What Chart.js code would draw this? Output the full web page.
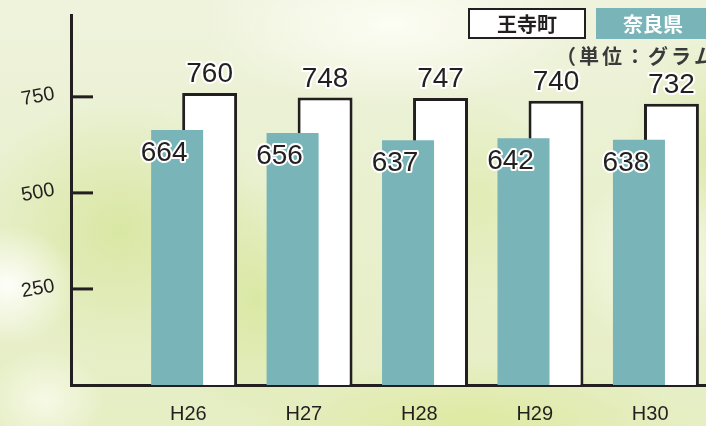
<!DOCTYPE html>
<html lang="ja">
<head>
<meta charset="UTF-8">
<title>王寺町と奈良県</title>
<script src="https://cdn.jsdelivr.net/npm/chart.js"></script>
<style>
  html, body { margin: 0; padding: 0; }
  body {
    width: 706px; height: 426px; overflow: hidden;
    background:
      radial-gradient(ellipse 70px 60px at 8px 285px, rgba(255,255,252,0.95), rgba(255,255,252,0)),
      radial-gradient(ellipse 190px 80px at 390px 25px, rgba(255,255,248,0.85), rgba(255,255,248,0)),
      radial-gradient(ellipse 60px 50px at 45px 400px, rgba(250,252,238,0.8), rgba(250,252,238,0)),
      radial-gradient(ellipse 150px 130px at 120px 230px, rgba(212,228,150,0.75), rgba(212,228,150,0)),
      radial-gradient(ellipse 90px 120px at 255px 300px, rgba(212,229,148,0.7), rgba(212,229,148,0)),
      radial-gradient(ellipse 80px 110px at 480px 200px, rgba(220,233,165,0.6), rgba(220,233,165,0)),
      radial-gradient(ellipse 220px 60px at 470px 420px, rgba(220,232,150,0.75), rgba(220,232,150,0)),
      radial-gradient(ellipse 90px 90px at 660px 260px, rgba(250,252,238,0.85), rgba(250,252,238,0)),
      radial-gradient(ellipse 80px 120px at 706px 150px, rgba(218,232,165,0.75), rgba(218,232,165,0)),
      linear-gradient(180deg, #eff3dd 0%, #e9f0cf 45%, #e6eec4 100%);
  }
  #wrap { position: relative; width: 706px; height: 426px; }
</style>
</head>
<body>
<div id="wrap"><canvas id="myChart"></canvas></div>
<script>
const categories = ['H26', 'H27', 'H28', 'H29', 'H30'];
const ojiValues = [760, 748, 747, 740, 732];   // 王寺町
const naraValues = [664, 656, 637, 642, 638];  // 奈良県
const yTickValues = [250, 500, 750];
const unitText = '（単位：グラム）';

const TEAL = '#79b5b8';
const INK = '#231f20';
const NUM_FONT = '"Liberation Sans", Arial, sans-serif';
const JP_FONT = '"Noto Sans CJK JP", sans-serif';

function toPoints(values) {
    return values.map((v, i) => ({ x: i + 1, y: v }));
}

// y軸の内向き目盛りと傾いたラベル
const yTickPlugin = {
    id: 'yTickPlugin',
    afterDraw(chart) {
        const ctx = chart.ctx;
        const scale = chart.scales.y;
        const left = chart.chartArea.left;
        ctx.save();
        ctx.strokeStyle = INK;
        ctx.fillStyle = INK;
        ctx.lineWidth = 3;
        ctx.font = '20px ' + NUM_FONT;
        ctx.textAlign = 'center';
        ctx.textBaseline = 'middle';
        yTickValues.forEach(v => {
            const py = scale.getPixelForValue(v);
            ctx.beginPath();
            ctx.moveTo(left, py);
            ctx.lineTo(left + 22, py);
            ctx.stroke();
            ctx.save();
            ctx.translate(38, py);
            ctx.rotate(-0.18);
            ctx.fillText(String(v), 0, 0);
            ctx.restore();
        });
        ctx.restore();
    }
};

// 棒の数値ラベル（白フチ）
const valueLabels = {
    id: 'valueLabels',
    afterDatasetsDraw(chart) {
        const ctx = chart.ctx;
        ctx.save();
        ctx.font = '28px ' + NUM_FONT;
        ctx.textAlign = 'center';
        ctx.textBaseline = 'alphabetic';
        ctx.lineJoin = 'round';
        ctx.lineWidth = 4;
        ctx.strokeStyle = '#ffffff';
        ctx.fillStyle = INK;
        chart.data.datasets.forEach((ds, di) => {
            chart.getDatasetMeta(di).data.forEach((bar, i) => {
                const txt = String(ds.data[i].y);
                let x, y;
                if (di === 0) {
                    x = bar.x - 13;
                    y = bar.y + 31;
                } else {
                    x = bar.x;
                    y = bar.y - 11;
                }
                ctx.strokeText(txt, x, y);
                ctx.fillText(txt, x, y);
            });
        });
        ctx.restore();
    }
};

// 右上の凡例と単位
const boxLegend = {
    id: 'boxLegend',
    afterDraw(chart) {
        const ctx = chart.ctx;
        const ds = chart.data.datasets;
        ctx.save();
        ctx.fillStyle = '#ffffff';
        ctx.fillRect(468, 8, 118, 31);
        ctx.strokeStyle = INK;
        ctx.lineWidth = 2;
        ctx.strokeRect(469, 9, 116, 29);
        ctx.font = 'bold 20px ' + JP_FONT;
        ctx.textAlign = 'center';
        ctx.textBaseline = 'middle';
        ctx.fillStyle = INK;
        ctx.fillText(ds[1].label, 527, 24);

        ctx.fillStyle = TEAL;
        ctx.fillRect(596, 8, 112, 31);
        ctx.fillStyle = '#ffffff';
        ctx.fillText(ds[0].label, 653, 24);

        ctx.fillStyle = '#3a3a3a';
        ctx.textAlign = 'left';
        ctx.letterSpacing = '3px';
        ctx.fillText(unitText, 556, 56);
        ctx.restore();
    }
};

const ctx = document.getElementById('myChart');
const chart = new Chart(ctx, {
    type: 'bar',
    data: {
        datasets: [{
            label: '奈良県',
            data: toPoints(naraValues),
            backgroundColor: TEAL,
            borderWidth: 0,
            categoryPercentage: 0.563,
            barPercentage: 1.6
        }, {
            label: '王寺町',
            data: toPoints(ojiValues),
            backgroundColor: '#ffffff',
            borderColor: INK,
            borderWidth: 3,
            borderSkipped: 'bottom',
            categoryPercentage: 0.563,
            barPercentage: 1.69
        }]
    },
    options: {
        responsive: true,
        maintainAspectRatio: false,
        animation: false,
        layout: { padding: { top: 15, right: 0, bottom: 0, left: 0 } },
        plugins: {
            legend: { display: false },
            tooltip: { enabled: false }
        },
        scales: {
            x: {
                type: 'linear',
                offset: false,
                min: -0.06,
                max: 5.44,
                afterBuildTicks: s => { s.ticks = categories.map((c, i) => ({ value: i + 1 })); },
                afterFit: s => { s.height = 41; },
                grid: { display: false, drawTicks: false, offset: false },
                border: { display: true, color: INK, width: 3 },
                ticks: {
                    callback: v => categories[v - 1] || '',
                    autoSkip: false,
                    maxRotation: 0,
                    padding: 17,
                    labelOffset: -5,
                    color: INK,
                    font: { size: 20, family: NUM_FONT }
                }
            },
            y: {
                min: 0,
                max: 963,
                afterFit: s => { s.width = 71; },
                ticks: { display: false, stepSize: 250 },
                grid: { display: false, drawTicks: false },
                border: { display: true, color: INK, width: 3 }
            }
        }
    },
    plugins: [valueLabels, yTickPlugin, boxLegend]
});
</script>
</body>
</html>
